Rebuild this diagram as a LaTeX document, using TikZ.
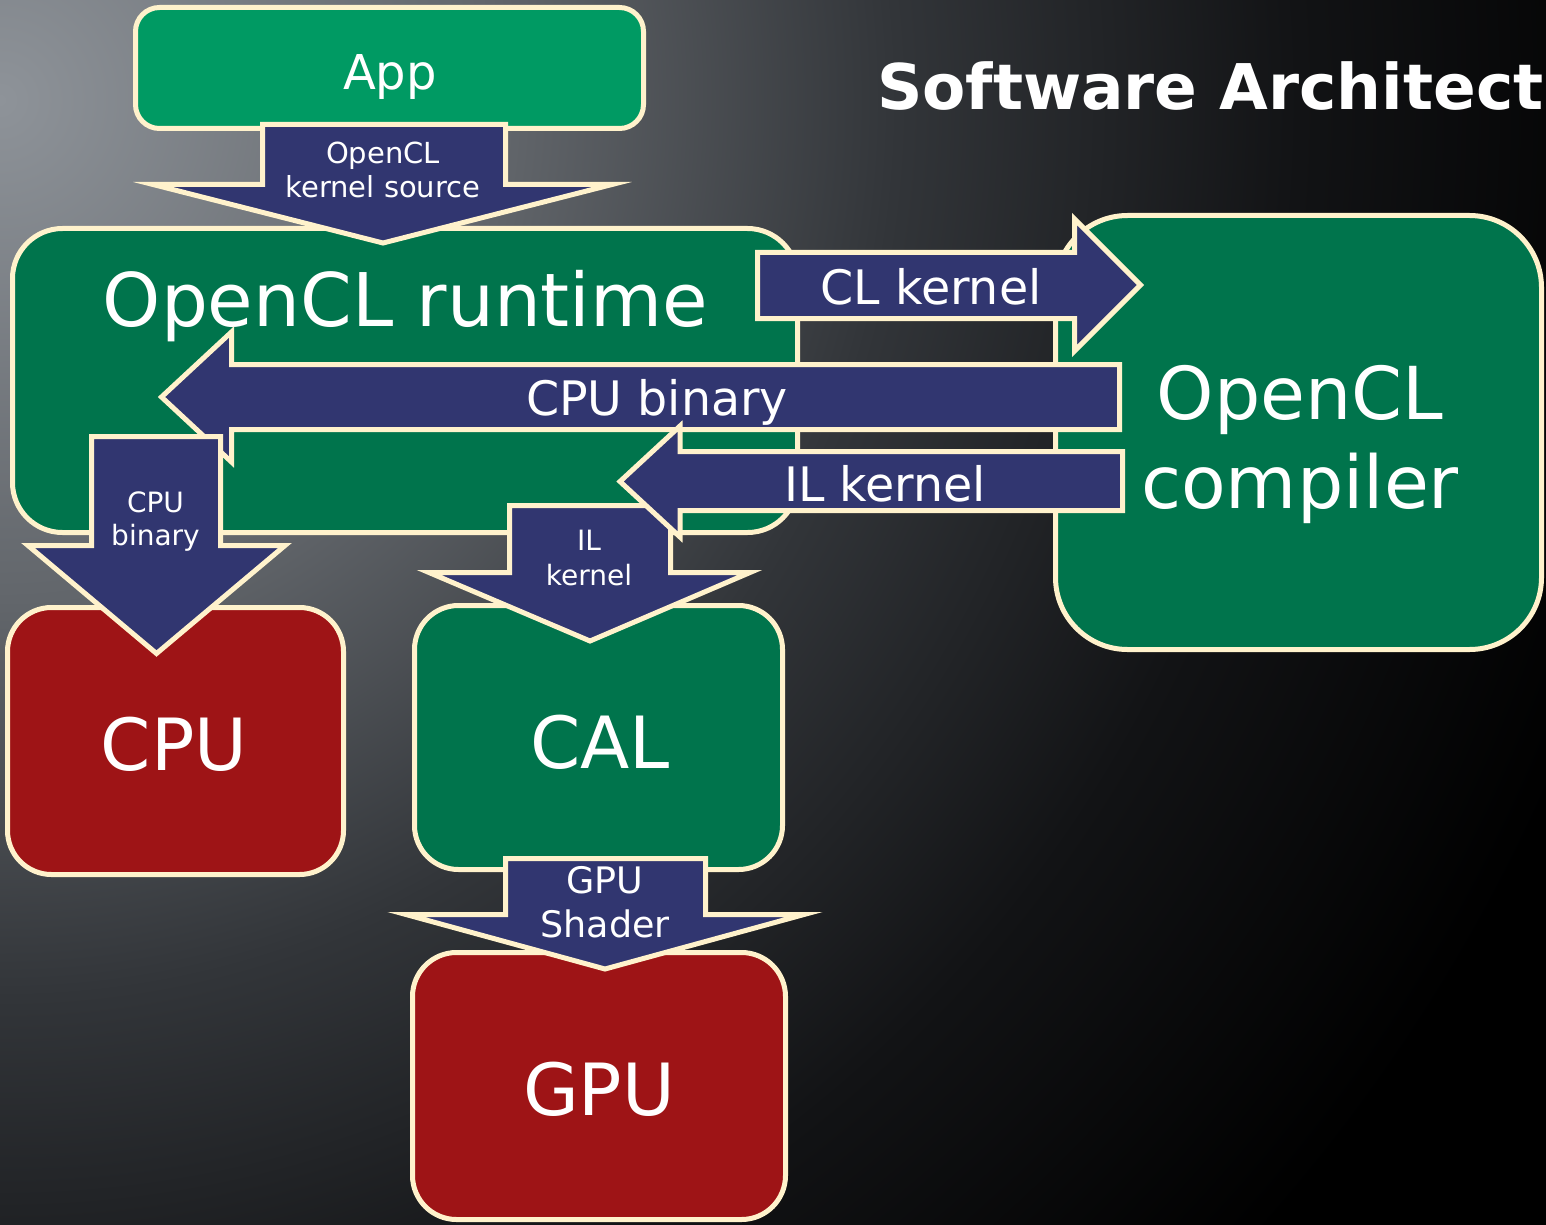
\documentclass[tikz,border=0pt]{standalone}
\usepackage{fontspec}
\setmainfont{DejaVu Sans}

\definecolor{cream}{RGB}{255,242,204}
\definecolor{navy}{RGB}{49,54,112}
\definecolor{appgreen}{RGB}{0,154,99}
\definecolor{darkgreen}{RGB}{0,116,76}
\definecolor{chipred}{RGB}{158,20,22}
\definecolor{bgA}{RGB}{142,147,153}
\definecolor{bgB}{RGB}{98,102,107}
\definecolor{bgC}{RGB}{50,53,57}
\definecolor{bgD}{RGB}{18,19,21}

% grey glow in the upper left fading to black at the circle's rim
\pgfdeclareradialshading{bgfade}{\pgfpoint{0bp}{0bp}}{%
  color(0bp)=(bgA); color(7.35bp)=(bgB); color(13.2bp)=(bgC);
  color(19.1bp)=(bgD); color(25bp)=(black); color(50bp)=(black)}

\tikzset{
  box/.style={rectangle, draw=cream, line width=2.5pt, inner sep=0pt, outer sep=0pt},
  blockarrow/.style={draw=cream, fill=navy, line width=2.5pt, line join=miter, miter limit=25},
  lab/.style={text=white, inner sep=0pt, outer sep=0pt},
  labtwo/.style={text=white, inner sep=0pt, outer sep=0pt, align=center},
}

\begin{document}
\begin{tikzpicture}[x=0.5pt, y=-0.5pt]
\useasboundingbox (0,0) rectangle (1546,1225);

% background
\begin{scope}
  \clip (0,0) rectangle (1546,1225);
  \fill[black] (0,0) rectangle (1546,1225);
  \shade[shading=bgfade] (0,100) circle (1700);
\end{scope}

% components
\node[box, fill=appgreen, rounded corners=12pt, minimum width=254pt, minimum height=60.5pt] (app) at (389.5,68) {};
\node[box, fill=darkgreen, rounded corners=25pt, minimum width=392.5pt, minimum height=152pt] (runtime) at (405,380.5) {};
\node[box, fill=darkgreen, rounded corners=36pt, minimum width=243pt, minimum height=217pt] (compiler) at (1298.5,432.5) {};
\node[box, fill=chipred, rounded corners=22pt, minimum width=168pt, minimum height=133.5pt] (cpu) at (175.5,741) {};
\node[box, fill=darkgreen, rounded corners=22pt, minimum width=184pt, minimum height=132pt] (cal) at (598.5,737.5) {};
\node[box, fill=chipred, rounded corners=22pt, minimum width=186.5pt, minimum height=133.5pt] (gpu) at (599,1086) {};

\node[lab, anchor=base, font=\fontsize{24}{28}\selectfont] (appText) at (390,90) {App};
\node[lab, anchor=base, font=\fontsize{37}{44}\selectfont] (runtimeText) at (405.5,326) {OpenCL runtime};
\node[labtwo, font=\fontsize{36.5}{44.5}\selectfont] (compilerText) at (1300,444) {OpenCL\\compiler};
\node[lab, anchor=base, font=\fontsize{36}{42}\selectfont] (cpuText) at (174,770) {CPU};
\node[lab, anchor=base, font=\fontsize{36}{42}\selectfont] (calText) at (600,768) {CAL};
\node[lab, anchor=base, font=\fontsize{36}{42}\selectfont] (gpuText) at (599,1115) {GPU};

% App -> runtime: kernel source
\path[blockarrow] (262.5,124.5) -- (505.5,124.5) -- (505.5,184.5) -- (612,184.5)
  -- (383,243) -- (153,184.5) -- (262.5,184.5) -- cycle;
\node[labtwo, font=\fontsize{14.5}{17}\selectfont] (srcText) at (383,169.5) {OpenCL\\kernel source};

% runtime -> compiler: CL kernel
\path[blockarrow] (757.5,252.5) -- (1074.5,252.5) -- (1074.5,219) -- (1140.5,285)
  -- (1074.5,351) -- (1074.5,318.5) -- (757.5,318.5) -- cycle;
\node[lab, anchor=base, font=\fontsize{23.75}{28}\selectfont] (clText) at (931,304) {CL kernel};

% compiler -> runtime: CPU binary
\path[blockarrow] (1119.5,364.5) -- (231.5,364.5) -- (231.5,332) -- (161.5,397)
  -- (231.5,462) -- (231.5,429.5) -- (1119.5,429.5) -- cycle;
\node[lab, anchor=base, font=\fontsize{23.75}{28}\selectfont] (cpubinText) at (657,415) {CPU binary};

% runtime -> CPU
\path[blockarrow] (91.5,436.5) -- (220.5,436.5) -- (220.5,545.5) -- (285,545.5)
  -- (156.5,653.5) -- (28,545.5) -- (91.5,545.5) -- cycle;
\node[labtwo, font=\fontsize{14}{16.5}\selectfont] (cpudownText) at (155.5,521.5) {CPU\\binary};

% runtime -> CAL
\path[blockarrow] (509.5,505.5) -- (670.5,505.5) -- (670.5,572.5) -- (750,572.5)
  -- (590,641) -- (429,572.5) -- (509.5,572.5) -- cycle;
\node[labtwo, font=\fontsize{14}{17.5}\selectfont] (ildownText) at (589,557.5) {IL\\kernel};

% compiler -> runtime: IL kernel
\path[blockarrow] (1122.5,451.5) -- (680,451.5) -- (680,426) -- (620,481.5)
  -- (680,537) -- (680,510.5) -- (1122.5,510.5) -- cycle;
\node[lab, anchor=base, font=\fontsize{23.75}{28}\selectfont] (ilText) at (885,501) {IL kernel};

% CAL -> GPU
\path[blockarrow] (505.5,858.5) -- (705.5,858.5) -- (705.5,914.5) -- (804,914.5)
  -- (605,969) -- (406,914.5) -- (505.5,914.5) -- cycle;
\node[labtwo, font=\fontsize{18.25}{22}\selectfont] (shaderText) at (605,902) {GPU\\Shader};

% title
\node[lab, anchor=base west, font=\fontsize{31.5}{38}\selectfont\bfseries] (title) at (877,110) {Software Architect};
\end{tikzpicture}
\end{document}
